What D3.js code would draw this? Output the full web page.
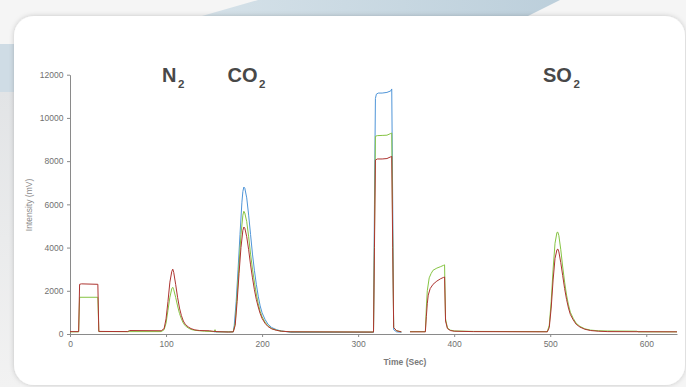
<!DOCTYPE html>
<html>
<head>
<meta charset="utf-8">
<script src="https://cdn.jsdelivr.net/npm/d3@7"></script>
<style>
  body { margin: 0; background: #f3f4f5; }
  svg { display: block; }
</style>
</head>
<body>
<div id="chart"></div>
<script>
// size of the page
var w = 686;
var h = 387;

// plot box (window.top is reserved, so own names)
var plotLeft = 70, plotRight = 677, plotTop = 74.7, plotBottom = 334;

var xTicks = [0, 100, 200, 300, 400, 500, 600];
var yTicks = [0, 2000, 4000, 6000, 8000, 10000, 12000];

// [time (s), intensity (mV)], null = no signal
var blueData = [
    [150, 100], [170, 100], [171, 400], [173, 1500], [175, 3000], [177, 4600], [179, 6100],
    [180, 6600], [181, 6800], [182, 6750], [184, 6300], [186, 5500], [188, 4600], [190, 3700],
    [192, 2950], [194, 2300], [196, 1750], [198, 1300], [200, 980], [203, 680], [206, 460],
    [210, 300], [215, 200], [220, 140], [225, 110], [230, 80], [316, 80], [317, 6000],
    [318, 10900], [319, 11100], [321, 11150], [325, 11150], [330, 11180], [334, 11250],
    [335, 11340], [336, 6000], [337, 200], [340, 100], [345, 80]
];

var greenData = [
    [0, 100], [9, 100], [10, 1700], [29, 1700], [30, 110], [95, 110], [98, 200], [100, 500],
    [102, 1100], [104, 1700], [106, 2100], [107, 2160], [108, 2050], [110, 1700], [112, 1300],
    [114, 950], [116, 700], [118, 500], [120, 380], [123, 280], [126, 210], [130, 170],
    [140, 130], [150, 110], [151, 200], [152, 100], [170, 100], [172, 500], [174, 1800],
    [176, 3200], [178, 4600], [180, 5500], [181, 5680], [182, 5600], [184, 5200], [186, 4500],
    [188, 3700], [190, 3000], [192, 2400], [194, 1850], [196, 1400], [198, 1050], [200, 800],
    [203, 550], [206, 380], [210, 250], [215, 180], [220, 130], [230, 100], [316, 90],
    [317, 4500], [318, 9150], [320, 9180], [325, 9190], [330, 9200], [334, 9280], [335, 9300],
    [336, 4500], [337, 300], [340, 150], [345, 100], [346, null], [354, 110], [370, 110],
    [371, 1200], [372, 2000], [374, 2600], [376, 2800], [378, 2950], [382, 3050], [386, 3120],
    [389, 3180], [390, 3200], [391, 700], [393, 280], [396, 180], [400, 140], [420, 120],
    [497, 110], [499, 400], [501, 1500], [503, 3000], [505, 4200], [507, 4700], [508, 4710],
    [509, 4550], [511, 3900], [513, 3100], [515, 2400], [517, 1800], [519, 1350], [521, 1000],
    [524, 720], [527, 500], [531, 350], [536, 240], [542, 180], [550, 150], [560, 140],
    [590, 130], [592, 100], [632, 100]
];

var redData = [
    [0, 110], [9, 110], [10, 2300], [12, 2320], [29, 2300], [30, 120], [60, 110], [62, 160],
    [95, 150], [98, 250], [100, 700], [102, 1500], [104, 2400], [106, 2900], [107, 3000],
    [108, 2850], [110, 2300], [112, 1700], [114, 1200], [116, 850], [118, 600], [120, 450],
    [123, 330], [126, 250], [130, 190], [135, 160], [145, 150], [150, 120], [153, 110],
    [165, 90], [170, 100], [172, 400], [174, 1500], [176, 2800], [178, 4000], [180, 4800],
    [181, 4950], [182, 4900], [184, 4500], [186, 3900], [188, 3200], [190, 2600], [192, 2050],
    [194, 1600], [196, 1250], [198, 950], [200, 720], [203, 500], [206, 350], [210, 240],
    [215, 170], [220, 130], [230, 100], [316, 90], [317, 4000], [318, 8050], [320, 8100],
    [325, 8100], [330, 8120], [334, 8200], [335, 8220], [336, 4000], [337, 300], [340, 150],
    [345, 100], [346, null], [354, 100], [370, 100], [371, 800], [372, 1400], [373, 1800],
    [375, 2100], [378, 2300], [382, 2450], [386, 2560], [389, 2620], [390, 2640], [391, 600],
    [393, 250], [396, 160], [400, 130], [420, 110], [497, 100], [499, 300], [501, 1200],
    [503, 2500], [505, 3500], [507, 3900], [508, 3930], [509, 3800], [511, 3300], [513, 2700],
    [515, 2100], [517, 1600], [519, 1200], [521, 900], [524, 650], [527, 450], [531, 320],
    [536, 220], [542, 160], [550, 130], [560, 110], [632, 100]
];

var gases = [
    { name: "N", x: 162 },
    { name: "CO", x: 227.5 },
    { name: "SO", x: 543 }
];

var svg = d3.select("#chart")
    .append("svg")
    .attr("width", w)
    .attr("height", h);

var defs = svg.append("defs");

var swoosh = defs.append("linearGradient").attr("id", "swoosh");
swoosh.append("stop").attr("offset", "0%").attr("stop-color", "#d6e2e9");
swoosh.append("stop").attr("offset", "100%").attr("stop-color", "#bccfdb");

var side = defs.append("linearGradient").attr("id", "side")
    .attr("x1", 0).attr("y1", 0).attr("x2", 0).attr("y2", 1);
side.append("stop").attr("offset", "0%").attr("stop-color", "#e2e4e6");
side.append("stop").attr("offset", "100%").attr("stop-color", "#f2f2f2");

var shadow = defs.append("filter").attr("id", "shadow")
    .attr("x", "-5%").attr("y", "-5%").attr("width", "110%").attr("height", "110%");
shadow.append("feDropShadow")
    .attr("dx", 0).attr("dy", 0).attr("stdDeviation", 2.5)
    .attr("flood-color", "#000").attr("flood-opacity", 0.2);

//Background
svg.append("rect").attr("width", w).attr("height", h).attr("fill", "#f5f5f5");
svg.append("rect").attr("x", 0).attr("y", 92).attr("width", 20).attr("height", h - 92)
    .attr("fill", "url(#side)");
svg.append("rect").attr("x", 0).attr("y", 44).attr("width", 20).attr("height", 48)
    .attr("fill", "#cfdce5");
svg.append("polygon")
    .attr("points", "188,20 258,0 560,0 520,20")
    .attr("fill", "url(#swoosh)");

//Card
svg.append("rect")
    .attr("x", 14).attr("y", 16)
    .attr("width", 671).attr("height", 369)
    .attr("rx", 20)
    .attr("fill", "white")
    .attr("filter", "url(#shadow)");

//Scales
var xScale = d3.scaleLinear().domain([0, 632]).range([plotLeft, plotRight]);
var yScale = d3.scaleLinear().domain([0, 12000]).range([plotBottom, plotTop]);

//Axes
var xAxis = d3.axisBottom(xScale).tickValues(xTicks).tickSize(3).tickSizeOuter(0).tickPadding(3.5);
var yAxis = d3.axisLeft(yScale).tickValues(yTicks).tickSize(3).tickSizeOuter(0).tickPadding(3.5)
    .tickFormat(d3.format("d"));

function styleAxis(g) {
    g.select(".domain").attr("stroke", "#8a8a8a");
    g.selectAll(".tick line").attr("stroke", "#8a8a8a");
    g.selectAll(".tick text")
        .attr("fill", "#707070")
        .attr("font-size", "8.5px")
        .attr("font-family", "'Liberation Sans', Arial, sans-serif");
}

svg.append("g")
    .attr("class", "y axis")
    .attr("transform", "translate(" + plotLeft + ",0)")
    .call(yAxis)
    .call(styleAxis);

//Lines
var line = d3.line()
    .defined(function (d) { return d[1] != null; })
    .x(function (d) { return xScale(d[0]); })
    .y(function (d) { return yScale(d[1]); });

var series = [
    { data: blueData, color: "#4f95d8" },
    { data: greenData, color: "#86c443" },
    { data: redData, color: "#ad3430" }
];

svg.selectAll("path.series")
    .data(series)
    .enter()
    .append("path")
    .attr("class", "series")
    .attr("d", function (d) { return line(d.data); })
    .attr("fill", "none")
    .attr("stroke", function (d) { return d.color; })
    .attr("stroke-width", 1)
    .attr("stroke-linejoin", "round");

svg.append("g")
    .attr("class", "x axis")
    .attr("transform", "translate(0," + plotBottom + ")")
    .call(xAxis)
    .call(styleAxis);

//Axis titles
svg.append("text")
    .attr("transform", "translate(32,205) rotate(-90)")
    .attr("text-anchor", "middle")
    .attr("font-family", "'Liberation Sans', Arial, sans-serif")
    .attr("font-size", "8.5px")
    .attr("fill", "#8a8a8a")
    .text("Intensity (mV)");

svg.append("text")
    .attr("x", 405)
    .attr("y", 365)
    .attr("text-anchor", "middle")
    .attr("font-family", "'Liberation Sans', Arial, sans-serif")
    .attr("font-size", "8.5px")
    .attr("font-weight", "bold")
    .attr("fill", "#7a7a7a")
    .text("Time (Sec)");

//Gas labels
var labels = svg.selectAll("text.gas")
    .data(gases)
    .enter()
    .append("text")
    .attr("class", "gas")
    .attr("x", function (d) { return d.x; })
    .attr("y", 81.5)
    .attr("font-family", "'Liberation Sans', Arial, sans-serif")
    .attr("font-weight", "bold")
    .attr("fill", "#484848");

labels.append("tspan")
    .attr("font-size", "20px")
    .text(function (d) { return d.name; });

labels.append("tspan")
    .attr("font-size", "11.5px")
    .attr("dx", 1.5)
    .attr("dy", 6)
    .text("2");
</script>
</body>
</html>
